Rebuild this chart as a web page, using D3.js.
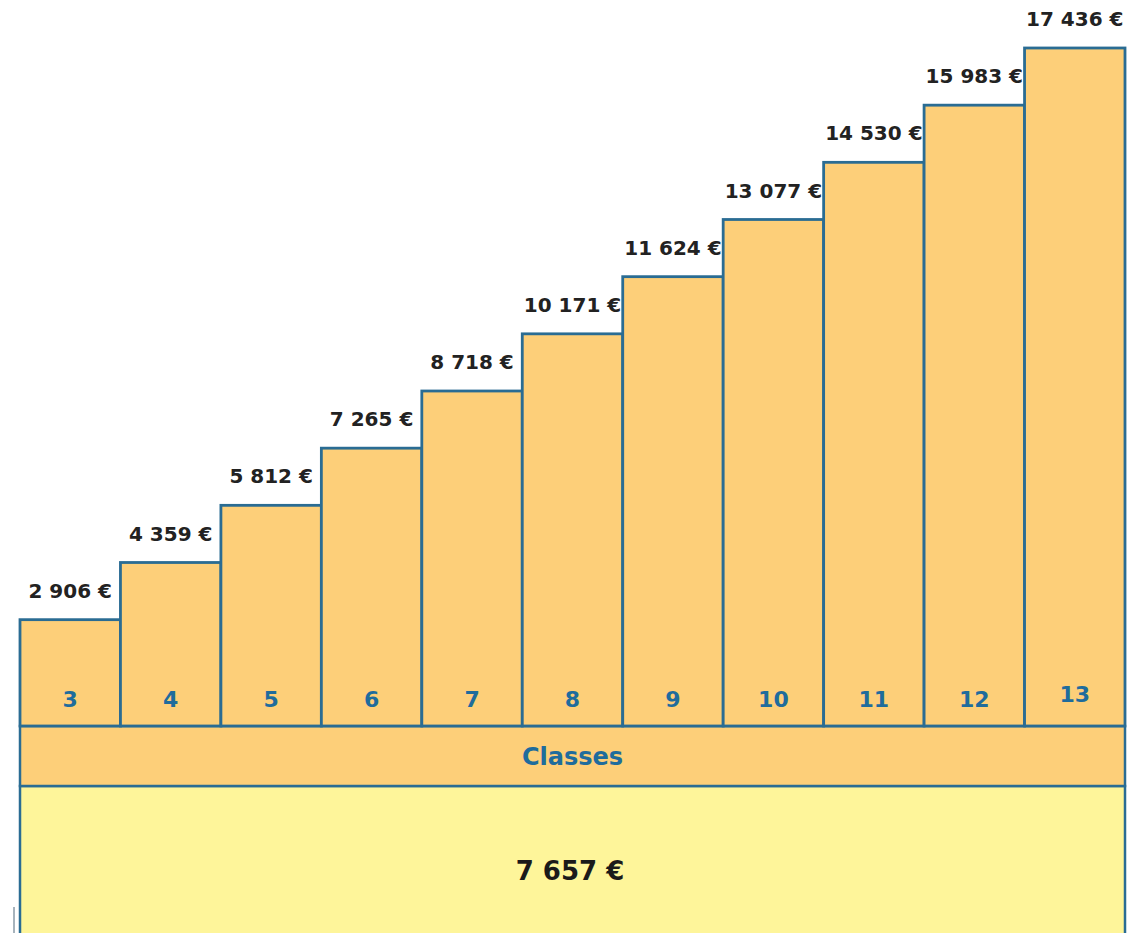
<!DOCTYPE html>
<html>
<head>
<meta charset="utf-8">
<script src="https://cdn.jsdelivr.net/npm/d3@7"></script>
<style>
  body { margin: 0; background: #fff; }
  text { font-family: "DejaVu Sans", Verdana, sans-serif; font-weight: bold; }
</style>
</head>
<body>
<svg id="chart" width="1128" height="933"></svg>
<script>
// Salaire annuel par classe
const classes = ["3", "4", "5", "6", "7", "8", "9", "10", "11", "12", "13"];
const amounts = [2906, 4359, 5812, 7265, 8718, 10171, 11624, 13077, 14530, 15983, 17436];
const bandLabel = "Classes";
const totalAmount = 7657;

const fmt = v => d3.format(",")(v).replace(/,/g, " ") + " €";

const svg = d3.select("#chart");
const width = +svg.attr("width");
const height = +svg.attr("height");

const left = 20, right = 1125;
const baseY = 726;          // bottom of the bars
const bandBottom = 786;     // bottom of the "Classes" band

const stroke = "#2a6c93";
const barFill = "#fdcf79";
const lowerFill = "#fef59a";
const blue = "#1f6c9c";

const x = d3.scaleBand().domain(classes).range([left, right]).padding(0);
const y = d3.scaleLinear().domain([0, d3.max(amounts)]).range([734, 48]);

const data = classes.map((c, i) => ({ c, v: amounts[i] }));

// lower yellow block
svg.append("rect")
    .attr("x", left).attr("y", bandBottom)
    .attr("width", right - left).attr("height", height - bandBottom + 10)
    .style("fill", lowerFill)
    .style("stroke", stroke)
    .style("stroke-width", 2.5);

// "Classes" band
svg.append("rect")
    .attr("x", left).attr("y", baseY)
    .attr("width", right - left).attr("height", bandBottom - baseY)
    .style("fill", barFill)
    .style("stroke", stroke)
    .style("stroke-width", 2.5);

svg.append("text")
    .attr("x", (left + right) / 2).attr("y", 765)
    .attr("text-anchor", "middle")
    .style("font-size", "24px")
    .style("fill", blue)
    .text(bandLabel);

svg.append("text")
    .attr("x", 570).attr("y", 880)
    .attr("text-anchor", "middle")
    .style("font-size", "26px")
    .style("fill", "#1a1a1a")
    .text(fmt(totalAmount));

// steps
svg.selectAll(".bar")
    .data(data)
    .enter()
    .append("rect")
    .attr("class", "bar")
    .attr("x", d => x(d.c))
    .attr("y", d => y(d.v))
    .attr("width", x.bandwidth())
    .attr("height", d => baseY - y(d.v))
    .style("fill", barFill)
    .style("stroke", stroke)
    .style("stroke-width", 2.8);

// class numbers
svg.selectAll(".cls")
    .data(data)
    .enter()
    .append("text")
    .attr("class", "cls")
    .attr("x", d => x(d.c) + x.bandwidth() / 2)
    .attr("y", (d, i) => 707 - (i === 10 ? 5 : 0))
    .attr("text-anchor", "middle")
    .style("font-size", "22px")
    .style("fill", blue)
    .text(d => d.c);

// amount labels
svg.selectAll(".amt")
    .data(data)
    .enter()
    .append("text")
    .attr("class", "amt")
    .attr("x", d => x(d.c) + x.bandwidth() / 2)
    .attr("y", d => y(d.v) - 22)
    .attr("text-anchor", "middle")
    .style("font-size", "20px")
    .style("fill", "#222")
    .text(d => fmt(d.v));

// small stray mark bottom left
svg.append("line")
    .attr("x1", 14).attr("x2", 14)
    .attr("y1", 907).attr("y2", 933)
    .style("stroke", "#8a9aa6")
    .style("stroke-width", 1.5);
</script>
</body>
</html>
